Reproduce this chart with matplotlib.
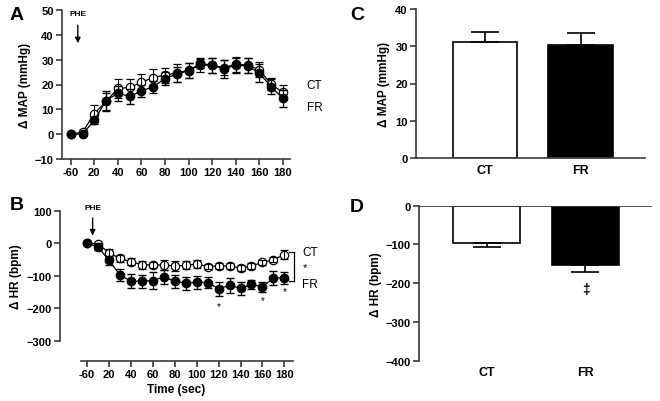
import matplotlib.pyplot as plt
import numpy as np

plt.rcParams['font.family'] = ['Liberation Sans', 'DejaVu Sans']
plt.rcParams['font.weight'] = 'bold'
plt.rcParams['axes.labelweight'] = 'bold'

# time points (s); first point is the baseline, shown as "-60"
time = np.arange(0, 190, 10)
time_ticks = [0, 20, 40, 60, 80, 100, 120, 140, 160, 180]
time_labels = ['-60', '20', '40', '60', '80', '100', '120', '140', '160', '180']

# panel A: delta MAP (mmHg)
map_ct = [0, 0.8, 8.3, 13.2, 18.4, 18.8, 20.9, 22.8, 23.8, 24.6, 25.8, 27.7, 27.8, 26.8, 28.2, 27.8, 25.9, 20.1, 16.8]
map_ct_err = [0, 0.5, 3.3, 3.5, 4.0, 3.5, 3.5, 3.5, 3.0, 3.5, 3.0, 2.5, 3.0, 3.0, 3.0, 3.0, 3.0, 2.5, 3.0]
map_fr = [0, 0, 5.6, 13.5, 16.5, 15.2, 17.4, 19.1, 22.4, 24.2, 25.5, 28.5, 27.8, 26.2, 27.8, 27.5, 24.6, 19.1, 14.4]
map_fr_err = [0, 0.5, 1.5, 4.0, 3.0, 3.0, 2.5, 2.5, 2.5, 3.0, 3.0, 2.0, 3.0, 3.5, 3.0, 3.0, 3.5, 3.0, 3.5]

# panel B: delta HR (bpm)
hr_ct = [0, -2, -30, -47, -57, -66, -67, -67, -70, -68, -64, -72, -70, -70, -76, -70, -59, -51, -35]
hr_ct_err = [0, 3, 12, 10, 10, 12, 10, 15, 15, 12, 12, 8, 8, 8, 10, 10, 8, 8, 13]
hr_fr = [0, -12, -53, -98, -117, -117, -115, -104, -117, -123, -120, -121, -140, -130, -139, -127, -134, -108, -106]
hr_fr_err = [0, 8, 15, 18, 22, 20, 25, 22, 20, 20, 20, 18, 22, 22, 20, 15, 15, 22, 18]
star_times = [120, 160, 180]
star_levels = [-194, -176, -147]

# panels C, D: peak responses
groups = ['CT', 'FR']
peak_map = [31.2, 30.4]
peak_map_err = [2.5, 3.1]
peak_hr = [-95, -153]
peak_hr_err = [12, 19]

W, H = 660, 402
fig = plt.figure(figsize=(W / 100, H / 100), dpi=100)
AX_COL = '#3a3a3a'


def px_axes(x0, y0, x1, y1):
    # axes from pixel box (top-left origin)
    return fig.add_axes([x0 / W, 1 - y1 / H, (x1 - x0) / W, (y1 - y0) / H])


def style(ax):
    for s in ['top', 'right']:
        ax.spines[s].set_visible(False)
    for s in ['left', 'bottom']:
        ax.spines[s].set_linewidth(1.2)
        ax.spines[s].set_color(AX_COL)
    ax.tick_params(direction='out', length=4, width=1.2, color=AX_COL,
                   labelsize=8, pad=2)


def time_series(ax, ct, ct_err, fr, fr_err):
    # open circles: error bars drawn over the marker, as in the original
    ax.plot(time, ct, color='black', lw=0.9, marker='o', ms=6,
            mfc='white', mec='black', mew=0.9, zorder=3)
    ax.errorbar(time, ct, yerr=ct_err, fmt='none', ecolor='black',
                capsize=3, elinewidth=0.8, capthick=0.9, zorder=3.5)
    ax.errorbar(time, fr, yerr=fr_err, color='black', lw=0.9, marker='o', ms=6,
                mfc='black', mec='black', capsize=3, elinewidth=0.9, zorder=4)
    ax.set_xticks(time_ticks)
    ax.set_xticklabels(time_labels)


# ---- A ----
axA = px_axes(62, 11, 290, 160)
time_series(axA, map_ct, map_ct_err, map_fr, map_fr_err)
axA.set_xlim(-7.4, 186)
axA.set_ylim(-10, 50)
axA.set_yticks(range(-10, 51, 10))
axA.set_ylabel('Δ MAP (mmHg)', fontsize=8.5, labelpad=3)
axA.annotate('', xy=(6, 35.5), xytext=(6, 45),
             arrowprops=dict(arrowstyle='-|>', color='black', lw=1, mutation_scale=8))
axA.text(6, 47, 'PHE', fontsize=6, ha='center', va='bottom')
axA.text(200, 19.8, 'CT', fontsize=8.5, fontweight='normal', ha='left', va='center', clip_on=False)
axA.text(200, 10.9, 'FR', fontsize=8.5, fontweight='normal', ha='left', va='center', clip_on=False)
style(axA)

# ---- B ----
axB = px_axes(60, 211.7, 293, 341.7)
time_series(axB, hr_ct, hr_ct_err, hr_fr, hr_fr_err)
axB.set_xlim(-24.8, 187.9)
axB.set_ylim(-300, 100)
axB.set_yticks(range(-300, 101, 100))
axB.spines['bottom'].set_position(('outward', 14.5))
axB.spines['bottom'].set_bounds(-5.5, 187.9)
axB.set_ylabel('Δ HR (bpm)', fontsize=8.5, labelpad=3)
axB.set_xlabel('Time (sec)', fontsize=8.5, labelpad=3)
for t, lv in zip(star_times, star_levels):
    axB.text(t, lv, '*', fontsize=7, fontweight='normal', ha='center', va='center')
axB.annotate('', xy=(5, 15), xytext=(5, 86),
             arrowprops=dict(arrowstyle='-|>', color='black', lw=1, mutation_scale=8))
axB.text(5, 98, 'PHE', fontsize=6, ha='center', va='bottom')
bx = 188.5
axB.plot([bx, bx], [-27, -116], color='black', lw=0.9, clip_on=False)
axB.plot([bx - 4, bx], [-27, -27], color='black', lw=0.9, clip_on=False)
axB.plot([bx - 4, bx], [-116, -116], color='black', lw=0.9, clip_on=False)
axB.text(bx + 10, -74, '*', fontsize=8, fontweight='normal', ha='center', va='center', clip_on=False)
axB.text(bx + 8, -28, 'CT', fontsize=8.5, fontweight='normal', ha='left', va='center', clip_on=False)
axB.text(bx + 8, -126, 'FR', fontsize=8.5, fontweight='normal', ha='left', va='center', clip_on=False)
style(axB)

# ---- C ----
xpos = np.arange(len(groups))
axC = px_axes(416, 10, 645, 159)
axC.bar(xpos, peak_map, width=0.667, color=['white', 'black'], edgecolor='black', lw=1.2,
        yerr=[[0, 0], peak_map_err], error_kw=dict(capsize=10, elinewidth=1.2, capthick=1.2))
axC.set_xlim(-0.714, 1.672)
axC.set_ylim(0, 40)
axC.set_yticks(range(0, 41, 10))
axC.set_xticks(xpos)
axC.set_xticklabels(groups)
axC.set_ylabel('Δ MAP (mmHg)', fontsize=8.5, labelpad=4)
style(axC)
axC.tick_params(axis='x', length=0, pad=4, labelsize=9)

# ---- D ----
axD = px_axes(419.3, 206.7, 651.7, 361.7)
axD.bar(xpos, peak_hr, width=0.675, color=['white', 'black'], edgecolor='black', lw=1.2,
        yerr=[peak_hr_err, [0, 0]], error_kw=dict(capsize=10, elinewidth=1.2, capthick=1.2))
axD.set_xlim(-0.682, 1.67)
axD.set_ylim(-400, 0)
axD.set_yticks(range(-400, 1, 100))
axD.set_xticks(xpos)
axD.set_xticklabels(groups)
axD.set_ylabel('Δ HR (bpm)', fontsize=8.5, labelpad=3)
axD.text(1, -215, '‡', fontsize=10, ha='center', va='center')
style(axD)
axD.spines['bottom'].set_visible(False)
axD.axhline(0, color=AX_COL, lw=1.2, zorder=5)
axD.tick_params(axis='x', length=0, pad=4, labelsize=9)

for lab, (x, y) in zip('ABCD', [(10, 16), (10, 206), (350, 16), (350, 208)]):
    fig.text(x / W, 1 - y / H, lab, fontsize=14, ha='left', va='center')

fig.savefig('out.png', dpi=100)
